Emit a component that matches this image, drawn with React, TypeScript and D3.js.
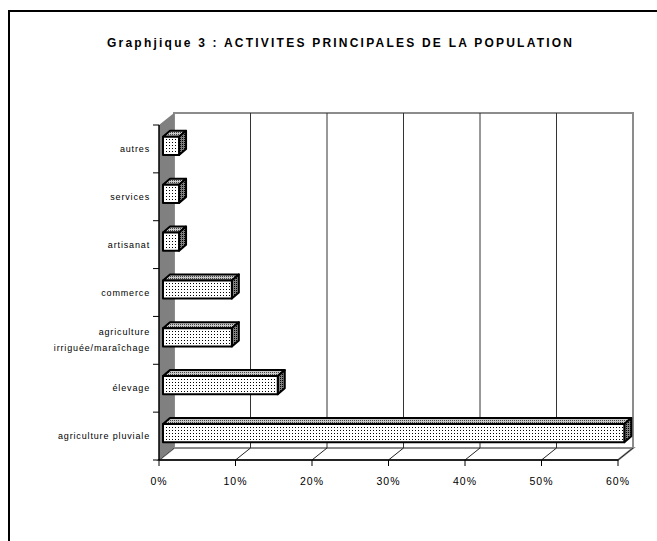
import React from 'react';
import * as d3 from 'd3';

// categories from bottom to top, as in the chart
const categories = [
  'agriculture pluviale',
  'élevage',
  'agriculture irriguée/maraîchage',
  'commerce',
  'artisanat',
  'services',
  'autres',
];
const values = [60.3, 15.0, 9.0, 9.0, 2.1, 2.1, 2.1];
const ticks = [0, 10, 20, 30, 40, 50, 60];
const labelLines: Record<string, string[]> = {
  'agriculture irriguée/maraîchage': ['agriculture', 'irriguée/maraîchage'],
};

const W = 657;
const H = 541;
const DX = 15; // depth of the 3d box
const DY = -12;
const font = 'Arial, "Liberation Sans", sans-serif';

const App = () => {
  const x = d3.scaleLinear().domain([0, 60]).range([159, 618]);
  const y = d3
    .scaleBand<string>()
    .domain([...categories].reverse())
    .range([125, 460]);
  const band = y.bandwidth();
  const barH = band * 0.38;
  // bar sits in the middle of the depth
  const ox = 4;
  const oy = -3;
  const bdx = 7;
  const bdy = -6;

  const x0 = x(0);
  const x1 = x(60);
  const yTop = 125;
  const yBot = 460;

  return (
    <svg width={W} height={H} style={{ position: 'absolute', left: 0, top: 0, background: '#fff' }}>
      <defs>
        <pattern id="front" width="3" height="3" patternUnits="userSpaceOnUse">
          <rect width="3" height="3" fill="#fff" />
          <rect x="1" y="1" width="1" height="1" fill="#000" />
        </pattern>
        <pattern id="top" width="2" height="2" patternUnits="userSpaceOnUse">
          <rect width="2" height="2" fill="#c8c8c8" />
          <rect x="0" y="0" width="1" height="1" fill="#444" />
        </pattern>
        <pattern id="side" width="2" height="2" patternUnits="userSpaceOnUse">
          <rect width="2" height="2" fill="#808080" />
          <rect x="0" y="0" width="1" height="1" fill="#000" />
        </pattern>
      </defs>

      {/* cadre */}
      <path d={`M9,${H} V11 H${W}`} fill="none" stroke="#000" strokeWidth={2} />

      <text
        x={107}
        y={47}
        fontFamily={font}
        fontWeight="bold"
        fontSize={12}
        textLength={465}
        lengthAdjust="spacing"
      >
        Graphjique 3 : ACTIVITES PRINCIPALES DE LA POPULATION
      </text>

      {/* mur du fond */}
      <rect
        x={x0 + DX}
        y={yTop + DY}
        width={x1 - x0}
        height={yBot - yTop}
        fill="#fff"
        stroke="#8c8c8c"
        strokeWidth={2}
      />
      {/* sol */}
      <path
        d={`M${x0},${yBot} L${x1},${yBot} L${x1 + DX},${yBot + DY} L${x0 + DX},${yBot + DY} Z`}
        fill="#fff"
        stroke="#8c8c8c"
        strokeWidth={2}
      />
      {/* grille */}
      {ticks.slice(1, -1).map(t => (
        <line key={'g' + t} x1={x(t) + DX} x2={x(t) + DX} y1={yTop + DY} y2={yBot + DY} stroke="#333" strokeWidth={1} />
      ))}
      {ticks.map(t => (
        <line key={'f' + t} x1={x(t)} x2={x(t) + DX} y1={yBot} y2={yBot + DY} stroke="#222" strokeWidth={1} />
      ))}
      {/* mur gauche */}
      <path
        d={`M${x0},${yTop} L${x0 + DX},${yTop + DY} L${x0 + DX},${yBot + DY} L${x0},${yBot} Z`}
        fill="#808080"
      />

      {/* barres */}
      {categories.map((c, i) => {
        const bx = x0 + ox;
        const by = (y(c) as number) + band / 2 - barH / 2 + oy;
        const bw = x(values[i]) - x0;
        return (
          <g key={c} stroke="#000" strokeWidth={2} strokeLinejoin="round">
            <path
              d={`M${bx},${by} L${bx + bdx},${by + bdy} L${bx + bw + bdx},${by + bdy} L${bx + bw},${by} Z`}
              fill="url(#top)"
            />
            <path
              d={`M${bx + bw},${by} L${bx + bw + bdx},${by + bdy} L${bx + bw + bdx},${by + barH + bdy} L${bx + bw},${by + barH} Z`}
              fill="url(#side)"
            />
            <rect x={bx} y={by} width={bw} height={barH} fill="url(#front)" />
          </g>
        );
      })}

      {/* axes */}
      <line x1={x0} x2={x0} y1={yTop} y2={yBot} stroke="#000" strokeWidth={1.5} />
      <line x1={x0} x2={x1} y1={yBot} y2={yBot} stroke="#000" strokeWidth={1.5} />
      {[yTop, ...categories.map(c => (y(c) as number) + band)].map((v, i) => (
        <line key={'ct' + i} x1={x0 - 6} x2={x0} y1={v} y2={v} stroke="#000" />
      ))}
      {ticks.map(t => (
        <g key={'xt' + t}>
          <line x1={x(t)} x2={x(t)} y1={yBot} y2={yBot + 6} stroke="#000" />
          <text
            x={x(t)}
            y={485}
            textAnchor="middle"
            fontFamily={font}
            fontSize={10.5}
            letterSpacing={1}
          >
            {t}%
          </text>
        </g>
      ))}
      {categories.map(c => {
        const lines = labelLines[c] || [c];
        const cy = (y(c) as number) + band / 2;
        return (
          <text
            key={'l' + c}
            x={150}
            textAnchor="end"
            fontFamily={font}
            fontSize={9}
            letterSpacing={0.85}
          >
            {lines.map((l, k) => (
              <tspan key={k} x={150} y={cy + 3 + (k - (lines.length - 1) / 2) * 16}>
                {l}
              </tspan>
            ))}
          </text>
        );
      })}
    </svg>
  );
};

export default App;
